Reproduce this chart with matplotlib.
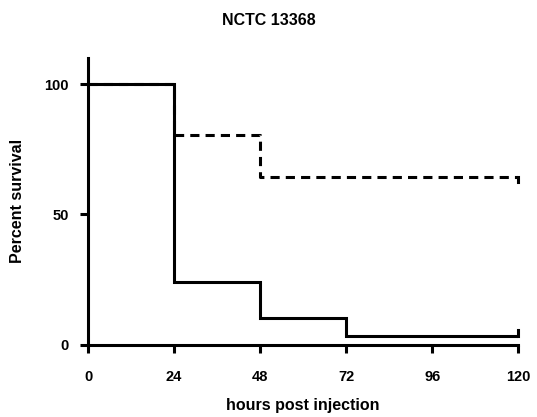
import matplotlib.pyplot as plt

plt.rcParams['font.family'] = ['Liberation Sans', 'DejaVu Sans']
plt.rcParams['font.weight'] = 'bold'

# survival data (hours, percent)
hours = [0, 24, 48, 72, 120]
solid_surv = [100, 24.1, 10.3, 3.4, 3.4]
dashed_hours = [0, 24, 48, 120]
dashed_surv = [100, 80.6, 64.5, 64.5]

xticks = [0, 24, 48, 72, 96, 120]
yticks = [0, 50, 100]

fig = plt.figure(figsize=(5.37, 4.17), dpi=100)
ax = fig.add_axes([0.164, 0.173, 0.801, 0.688])

lw = 2.2
ax.step(hours, solid_surv, where='post', color='black', lw=lw, solid_joinstyle='miter')
ax.step(dashed_hours, dashed_surv, where='post', color='black', lw=lw,
        linestyle=(0, (3, 2)))

# censor ticks at end of follow-up
tick_len = 2.2
ax.plot([hours[-1]] * 2, [solid_surv[-1], solid_surv[-1] + tick_len],
        color='black', lw=lw, clip_on=False)
ax.plot([dashed_hours[-1]] * 2, [dashed_surv[-1], dashed_surv[-1] - tick_len],
        color='black', lw=lw, clip_on=False)

ax.set_xlim(0, 120)
ax.set_ylim(0, 110)
ax.set_xticks(xticks)
ax.set_yticks(yticks)
ax.tick_params(width=2.2, length=6, labelsize=10.5)
ax.tick_params(axis='x', pad=12)
ax.tick_params(axis='y', pad=8)
for lab in ax.get_xticklabels() + ax.get_yticklabels():
    lab.set_fontweight('bold')
for s in ['top', 'right']:
    ax.spines[s].set_visible(False)
for s in ['left', 'bottom']:
    ax.spines[s].set_linewidth(2.2)

ax.set_xlabel('hours post injection', fontsize=11.5, fontweight='bold', labelpad=10)
ax.set_ylabel('Percent survival', fontsize=11.5, fontweight='bold', labelpad=14)
fig.suptitle('NCTC 13368', fontsize=11.5, fontweight='bold', y=0.97)

fig.savefig('out.png', dpi=100)
